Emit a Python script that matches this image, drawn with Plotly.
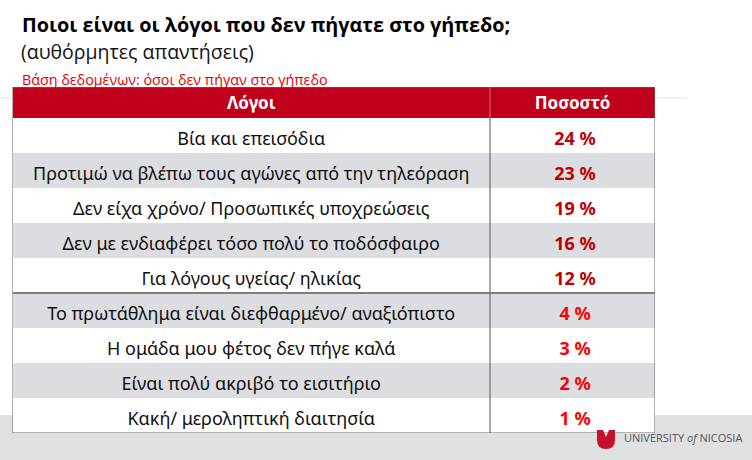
import plotly.graph_objects as go

# ---- data ----
reasons = [
    "Βία και επεισόδια",
    "Προτιμώ να βλέπω τους αγώνες από την τηλεόραση",
    "Δεν είχα χρόνο/ Προσωπικές υποχρεώσεις",
    "Δεν με ενδιαφέρει τόσο πολύ το ποδόσφαιρο",
    "Για λόγους υγείας/ ηλικίας",
    "Το πρωτάθλημα είναι διεφθαρμένο/ αναξιόπιστο",
    "Η ομάδα μου φέτος δεν πήγε καλά",
    "Είναι πολύ ακριβό το εισιτήριο",
    "Κακή/ μεροληπτική διαιτησία",
]
percents = [24, 23, 19, 16, 12, 4, 3, 2, 1]
headers = ["Λόγοι", "Ποσοστό"]
title = "Ποιοι είναι οι λόγοι που δεν πήγατε στο γήπεδο;"
subtitle = "(αυθόρμητες απαντήσεις)"
base_note = "Βάση δεδομένων: όσοι δεν πήγαν στο γήπεδο"

# ---- styling ----
W, H = 752, 460
RED = "#c0001a"
GREY_ROW = "#dcdde0"
n = len(reasons)
TL, TR, TT, TB = 12.5, 655, 87, 433
split = (490 - TL) / (TR - TL)
hdr = 31 / 35
centers = [i + 0.5 for i in range(n)]
text_y = [c + 0.15 for c in centers]
row_colors = ["#ffffff" if i % 2 == 0 else GREY_ROW for i in range(n)]
pct_colors = ["#c00000" if i < 5 else "#ff0000" for i in range(n)]
font_tbl = "Noto Sans"

fig = go.Figure()

# row backgrounds
fig.add_trace(go.Bar(
    orientation="h", y=centers, x=[1] * n, base=0, width=1,
    marker=dict(color=row_colors, line=dict(width=0)),
    hoverinfo="skip", showlegend=False,
))
# header background
fig.add_trace(go.Bar(
    orientation="h", y=[-hdr / 2], x=[1], base=0, width=hdr,
    marker=dict(color=RED, line=dict(width=0)),
    hoverinfo="skip", showlegend=False,
))
# header text
fig.add_trace(go.Scatter(
    x=[split / 2, (1 + split) / 2], y=[-hdr / 2 + 0.06] * 2, mode="text",
    text=[f"<b>{h}</b>" for h in headers],
    textfont=dict(family=font_tbl, size=17, color="white"),
    hoverinfo="skip", showlegend=False,
))
# reasons text
fig.add_trace(go.Scatter(
    x=[split / 2] * n, y=text_y, mode="text", text=reasons,
    textfont=dict(family=font_tbl, size=18, color="#111111"),
    hoverinfo="skip", showlegend=False,
))
# percent text
fig.add_trace(go.Scatter(
    x=[(1 + split) / 2 + 0.004] * n, y=text_y, mode="text",
    text=[f"<b>{p} %</b>" for p in percents],
    textfont=dict(family=font_tbl, size=18, color=pct_colors),
    hoverinfo="skip", showlegend=False,
))

shapes = []
# slide decorations (behind)
shapes.append(dict(type="rect", xref="paper", yref="paper", x0=0, x1=1,
                   y0=0, y1=(H - 415) / H, fillcolor="#dfe0e2",
                   line=dict(width=0), layer="below"))
shapes.append(dict(type="line", xref="paper", yref="paper", x0=0, x1=687 / W,
                   y0=(H - 98) / H, y1=(H - 98) / H,
                   line=dict(color="#e3e3e3", width=1), layer="below"))
# table lines
shapes.append(dict(type="line", xref="x", yref="y", x0=split, x1=split, y0=0, y1=n,
                   line=dict(color="#555555", width=1)))
shapes.append(dict(type="line", xref="x", yref="y", x0=split, x1=split, y0=-hdr, y1=0,
                   line=dict(color="rgba(255,255,255,0.45)", width=1)))
shapes.append(dict(type="line", xref="x", yref="y", x0=0, x1=1, y0=5, y1=5,
                   line=dict(color="#7f7f7f", width=2)))
shapes.append(dict(type="rect", xref="x", yref="y", x0=0, x1=1, y0=-hdr, y1=n,
                   line=dict(color="#666666", width=1)))
# logo mark
def px(x, y):
    return f"{x / W:.5f},{(H - y) / H:.5f}"
logo = (f"M {px(597, 430)} L {px(603, 430)} L {px(606, 437)} L {px(609, 430)} "
        f"L {px(615, 430)} L {px(615, 440)} Q {px(615, 449)} {px(606, 449)} "
        f"Q {px(597, 449)} {px(597, 440)} Z")
shapes.append(dict(type="path", xref="paper", yref="paper", path=logo,
                   fillcolor="#c8102e", line=dict(width=0)))

annotations = [
    dict(text=f"<b>{title}</b>", x=20 / W, y=(H - 24) / H, xref="paper", yref="paper",
         xanchor="left", yanchor="middle", showarrow=False,
         font=dict(family="Open Sans", size=19.8, color="#000000")),
    dict(text=subtitle, x=19 / W, y=(H - 51) / H, xref="paper", yref="paper",
         xanchor="left", yanchor="middle", showarrow=False,
         font=dict(family="Open Sans", size=19.5, color="#111111")),
    dict(text=base_note, x=20 / W, y=(H - 79) / H, xref="paper", yref="paper",
         xanchor="left", yanchor="middle", showarrow=False,
         font=dict(family="Open Sans", size=14.3, color="#e00000")),
    dict(text="UNIVERSITY <i>of</i> NICOSIA", x=622 / W, y=(H - 437) / H,
         xref="paper", yref="paper", xanchor="left", yanchor="middle", showarrow=False,
         font=dict(family="Open Sans", size=11, color="#555555")),
]

fig.update_layout(
    width=W, height=H, margin=dict(l=0, r=0, t=0, b=0),
    paper_bgcolor="white", plot_bgcolor="rgba(0,0,0,0)",
    xaxis=dict(domain=[TL / W, TR / W], range=[0, 1], visible=False, fixedrange=True),
    yaxis=dict(domain=[(H - TB) / H, (H - TT) / H], range=[n, -hdr],
               visible=False, fixedrange=True),
    shapes=shapes, annotations=annotations, bargap=0, barmode="overlay",
)

fig.write_html("out.html", config={"displayModeBar": False},
               post_script="document.body.style.margin='0';document.body.style.overflow='hidden';")
